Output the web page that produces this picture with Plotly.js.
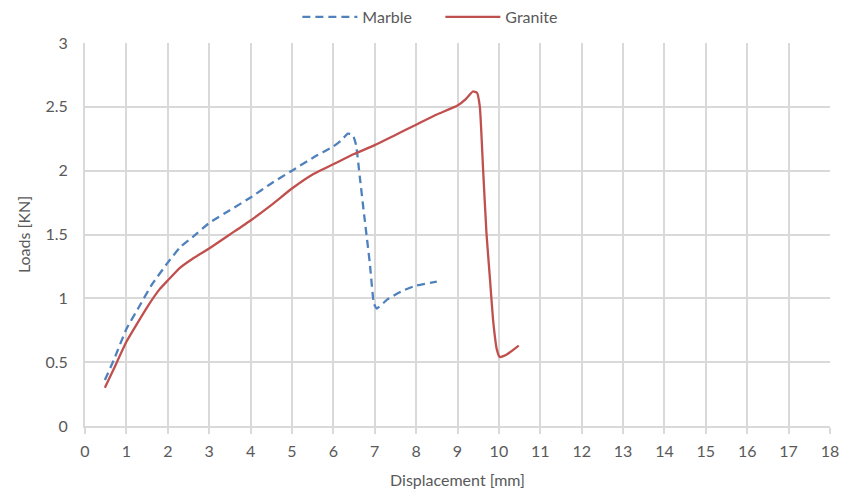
<!DOCTYPE html>
<html>
<head>
<meta charset="utf-8">
<script src="https://cdn.plot.ly/plotly-3.0.1.min.js"></script>
<style>html,body{margin:0;padding:0;background:#fff;}#chart{width:842px;height:497px;}</style>
</head>
<body>
<div id="chart"></div>
<script>
const marbleX = [0.48,0.7,1.0,1.3,1.6,2.0,2.3,2.6,3.0,3.5,4.0,4.5,5.0,5.5,6.0,6.2,6.35,6.47,6.55,6.64,6.76,6.88,6.98,7.05,7.3,7.68,8.0,8.5];
const marbleY = [0.36,0.52,0.76,0.93,1.10,1.28,1.40,1.48,1.59,1.69,1.79,1.90,2.00,2.10,2.19,2.24,2.29,2.28,2.20,1.95,1.61,1.28,0.96,0.92,0.99,1.06,1.10,1.13];
const graniteX = [0.48,0.7,1.0,1.5,1.8,2.0,2.3,2.6,3.0,3.5,4.0,4.5,5.0,5.5,6.0,6.5,7.0,7.5,8.0,8.5,9.0,9.2,9.37,9.47,9.54,9.62,9.7,9.78,9.86,9.95,10.02,10.19,10.48];
const graniteY = [0.30,0.45,0.66,0.93,1.07,1.14,1.24,1.31,1.39,1.50,1.61,1.73,1.86,1.97,2.05,2.13,2.20,2.28,2.36,2.44,2.51,2.56,2.62,2.61,2.50,2.00,1.51,1.17,0.83,0.60,0.54,0.56,0.63];
const seriesNames = ['Marble','Granite'];
const xTitle = 'Displacement [mm]';
const yTitle = 'Loads [KN]';

const font = {family:'Lato, "Open Sans", sans-serif', size:16, color:'#595959'};
const traces = [
  {x:marbleX, y:marbleY, name:seriesNames[0], mode:'lines', line:{color:'#4f81bd', width:2.3, dash:'8px,5px', shape:'spline', smoothing:0.4}},
  {x:graniteX, y:graniteY, name:seriesNames[1], mode:'lines', line:{color:'#c0504d', width:2.3, shape:'spline', smoothing:0.4}}
];
const layout = {
  width:842, height:497,
  margin:{l:85, r:12, t:43, b:71, autoexpand:false},
  paper_bgcolor:'#fff', plot_bgcolor:'#fff',
  font:font,
  showlegend:true,
  legend:{orientation:'h', x:0.477, xanchor:'center', yref:'container', y:1, yanchor:'top', font:font, itemwidth:55, entrywidth:73, tracegroupgap:0},
  xaxis:{range:[0,18], dtick:1, tick0:0, showgrid:true, gridcolor:'#d9d9d9', gridwidth:2, zeroline:false,
    showline:true, linecolor:'#d9d9d9', linewidth:2, mirror:false, ticks:'outside', ticklen:6, tickcolor:'#d9d9d9', tickwidth:2,
    ticklabelstandoff:4, tickfont:font, title:{text:xTitle, font:font, standoff:16}},
  yaxis:{range:[0,3], dtick:0.5, tick0:0, showgrid:true, gridcolor:'#d9d9d9', gridwidth:2, zeroline:false,
    showline:true, linecolor:'#d9d9d9', linewidth:2, ticks:'', ticklabelstandoff:12,
    tickfont:font, title:{text:yTitle, font:font, standoff:11}}
};
Plotly.newPlot('chart', traces, layout, {displayModeBar:false, staticPlot:true});
</script>
</body>
</html>
